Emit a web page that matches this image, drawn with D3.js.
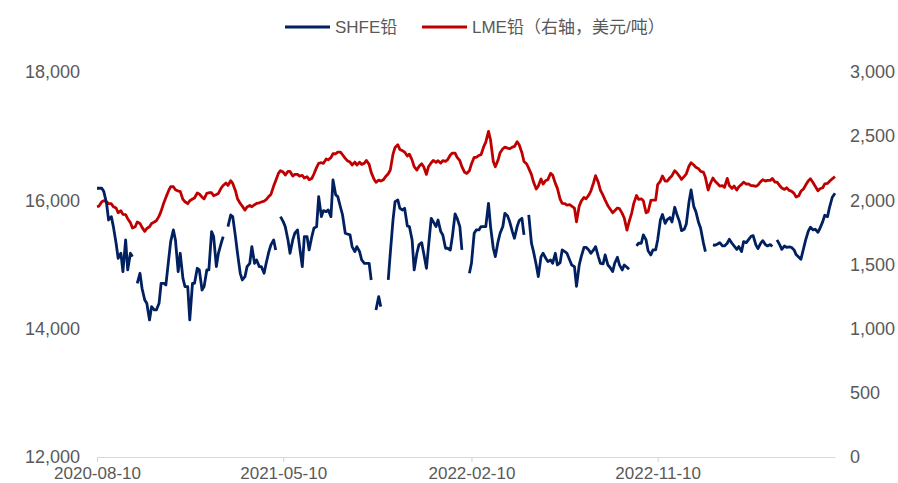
<!DOCTYPE html>
<html><head><meta charset="utf-8">
<script src="https://cdn.jsdelivr.net/npm/d3@7"></script>
<style>
html,body{margin:0;padding:0;background:#fff;}
svg text{font-family:"Liberation Sans","DejaVu Sans","Noto Sans CJK SC",sans-serif;fill:#595959;}
</style></head>
<body><svg id="c" width="898" height="483"></svg>
<script>
const dates = [
"2020-08-10","2020-08-13","2020-08-17","2020-08-20","2020-08-24","2020-08-27","2020-08-31","2020-09-03",
"2020-09-07","2020-09-10","2020-09-14","2020-09-17","2020-09-21","2020-09-24","2020-09-28","2020-10-01",
"2020-10-05","2020-10-08","2020-10-12","2020-10-15","2020-10-19","2020-10-22","2020-10-26","2020-10-29",
"2020-11-02","2020-11-05","2020-11-09","2020-11-12","2020-11-16","2020-11-19","2020-11-23","2020-11-26","2020-11-30","2020-12-03",
"2020-12-07","2020-12-10","2020-12-14","2020-12-17","2020-12-21","2020-12-24","2020-12-28","2020-12-31",
"2021-01-04","2021-01-07","2021-01-11","2021-01-14","2021-01-18","2021-01-21","2021-01-25","2021-01-28",
"2021-02-01","2021-02-04","2021-02-08","2021-02-11","2021-02-15","2021-02-18","2021-02-22","2021-02-25",
"2021-03-01","2021-03-04","2021-03-08","2021-03-11","2021-03-15","2021-03-18","2021-03-22","2021-03-25","2021-03-29","2021-04-01",
"2021-04-05","2021-04-08","2021-04-12","2021-04-15","2021-04-19","2021-04-22","2021-04-26","2021-04-29",
"2021-05-03","2021-05-06","2021-05-10","2021-05-13","2021-05-17","2021-05-20","2021-05-24","2021-05-27","2021-05-31","2021-06-03",
"2021-06-07","2021-06-10","2021-06-14","2021-06-17","2021-06-21","2021-06-24","2021-06-28","2021-07-01",
"2021-07-05","2021-07-08","2021-07-12","2021-07-15","2021-07-19","2021-07-22","2021-07-26","2021-07-29",
"2021-08-02","2021-08-05","2021-08-09","2021-08-12","2021-08-16","2021-08-19","2021-08-23","2021-08-26","2021-08-30","2021-09-02",
"2021-09-06","2021-09-09","2021-09-13","2021-09-16","2021-09-20","2021-09-23","2021-09-27","2021-09-30",
"2021-10-04","2021-10-07","2021-10-11","2021-10-14","2021-10-18","2021-10-21","2021-10-25","2021-10-28",
"2021-11-01","2021-11-04","2021-11-08","2021-11-11","2021-11-15","2021-11-18","2021-11-22","2021-11-25","2021-11-29","2021-12-02",
"2021-12-06","2021-12-09","2021-12-13","2021-12-16","2021-12-20","2021-12-23","2021-12-27","2021-12-30",
"2022-01-03","2022-01-06","2022-01-10","2022-01-13","2022-01-17","2022-01-20","2022-01-24","2022-01-27","2022-01-31","2022-02-03",
"2022-02-07","2022-02-10","2022-02-14","2022-02-17","2022-02-21","2022-02-24","2022-02-28","2022-03-03",
"2022-03-07","2022-03-10","2022-03-14","2022-03-17","2022-03-21","2022-03-24","2022-03-28","2022-03-31",
"2022-04-04","2022-04-07","2022-04-11","2022-04-14","2022-04-18","2022-04-21","2022-04-25","2022-04-28",
"2022-05-02","2022-05-05","2022-05-09","2022-05-12","2022-05-16","2022-05-19","2022-05-23","2022-05-26","2022-05-30","2022-06-02",
"2022-06-06","2022-06-09","2022-06-13","2022-06-16","2022-06-20","2022-06-23","2022-06-27","2022-06-30",
"2022-07-04","2022-07-07","2022-07-11","2022-07-14","2022-07-18","2022-07-21","2022-07-25","2022-07-28",
"2022-08-01","2022-08-04","2022-08-08","2022-08-11","2022-08-15","2022-08-18","2022-08-22","2022-08-25","2022-08-29","2022-09-01",
"2022-09-05","2022-09-08","2022-09-12","2022-09-15","2022-09-19","2022-09-22","2022-09-26","2022-09-29",
"2022-10-03","2022-10-06","2022-10-10","2022-10-13","2022-10-17","2022-10-20","2022-10-24","2022-10-27","2022-10-31","2022-11-03",
"2022-11-07","2022-11-10","2022-11-14","2022-11-17","2022-11-21","2022-11-24","2022-11-28","2022-12-01",
"2022-12-05","2022-12-08","2022-12-12","2022-12-15","2022-12-19","2022-12-22","2022-12-26","2022-12-29",
"2023-01-02","2023-01-05","2023-01-09","2023-01-12","2023-01-16","2023-01-19","2023-01-23","2023-01-26","2023-01-30","2023-02-02",
"2023-02-06","2023-02-09","2023-02-13","2023-02-16","2023-02-20","2023-02-23","2023-02-27","2023-03-02",
"2023-03-06","2023-03-09","2023-03-13","2023-03-16","2023-03-20","2023-03-23","2023-03-27","2023-03-30",
"2023-04-03","2023-04-06","2023-04-10","2023-04-13","2023-04-17","2023-04-20","2023-04-24","2023-04-27",
"2023-05-01","2023-05-04","2023-05-08","2023-05-11","2023-05-15","2023-05-18","2023-05-22","2023-05-25","2023-05-29","2023-06-01",
"2023-06-05","2023-06-08","2023-06-12","2023-06-15","2023-06-19","2023-06-22","2023-06-26","2023-06-29",
"2023-07-03","2023-07-06","2023-07-10","2023-07-13","2023-07-17","2023-07-20","2023-07-24","2023-07-28"
];
const shfe = [
16188,16188,16188,16136,15954,15694,15746,15590,15331,15097,15175,14889,15383,14915,15175,15123,
null,14707,14863,14629,14447,14395,14136,14344,14292,14292,14395,14707,14707,14681,15071,15357,15539,15383,
14889,15175,14785,14655,14655,14136,14707,14707,
14941,14915,14603,14655,14915,14915,15513,15435,14967,15175,15331,15435,null,15591,15772,15746,
15435,15175,14863,14759,14811,14967,15019,15279,15019,15071,14967,14967,14863,15019,15201,15305,15383,15227,
null,15746,15668,15590,15383,15175,15383,15487,15539,15279,14967,15435,15435,15227,15435,15565,
15591,16058,15746,15840,15824,15850,15746,16318,16084,16058,15892,15772,15487,15476,15461,15279,
15201,15279,15201,15071,15019,15019,15019,14759,null,14292,14499,14344,null,null,14759,15175,
15694,15980,16006,15876,15850,15876,15601,15591,15383,14915,15175,15305,15341,15175,14941,15279,
15720,15668,15591,15694,15513,15461,
15253,15253,15227,15435,15788,15720,15591,15227,null,null,14863,15019,15487,15539,15539,15591,
15591,15591,15954,15591,15253,15123,15357,15487,15591,15798,15757,15668,15513,15409,15591,15684,15720,15461,
null,15772,15331,15201,14993,14811,15123,15175,15097,15045,15071,15019,15175,14993,15029,15227,15201,15175,
15071,14993,14967,14660,14993,15123,15268,15268,15227,15175,15227,15279,15123,15019,15009,15149,14993,14957,
14889,15019,15112,14993,14915,14993,14957,14925,null,null,15292,15331,15331,15461,15383,15216,15149,15227,
15227,15383,15694,15780,15640,15700,15731,15663,15892,15788,15668,15528,15549,15632,15980,16162,
15902,15824,15653,15565,15341,15201,null,null,15305,15300,15320,15341,15289,15289,15331,15393,15331,15289,
15237,15279,15201,15357,15341,15383,15440,15450,15305,15247,15331,15372,15310,15289,15310,15279,
null,15383,15305,15237,15289,15268,15273,15268,15227,15154,15112,15081,15253,15383,15523,15580,15539,15549,
15502,15565,15668,15767,15746,15892,16048,16110
];
const lme = [
1950,1955,1989,1997,1989,1974,1974,1950,1940,1903,1919,1890,1888,1857,1826,1784,
1794,1831,1820,1789,1758,1781,1794,1820,1831,1841,1877,1916,1981,2023,2075,2106,2106,2083,
2072,2070,2007,1989,1974,1997,2010,2018,
2057,2049,2025,2012,2054,2059,2059,2036,2046,2054,2096,2116,2135,2116,2153,2132,
2075,2012,1976,1955,1924,1948,1961,1950,1966,1976,1981,1987,1994,2005,2031,2046,2111,2153,
2210,2231,2220,2197,2225,2225,2189,2202,2202,2189,2194,2174,2184,2161,2171,2205,
2257,2288,2293,2288,2322,2316,2332,2363,2363,2376,2376,2355,2327,2309,2298,2275,
2298,2275,2296,2280,2290,2311,2280,2218,2166,2140,2158,2150,2161,2184,2207,2236,
2360,2412,2433,2397,2386,2376,2345,2360,2314,2262,2236,2264,2285,2262,2202,2262,
2293,2311,2296,2309,2290,2309,
2303,2316,2353,2368,2368,2335,2309,2262,2218,2210,2231,2283,2335,2335,2350,2355,
2418,2454,2537,2470,2303,2262,2314,2371,2402,2415,2407,2402,2415,2420,2457,2433,2371,2303,
2283,2249,2200,2142,2088,2111,2166,2127,2155,2161,2210,2197,2132,2093,2010,1976,1974,1963,
1966,1955,1940,1833,1955,1994,2023,2012,2041,2072,2137,2192,2140,2080,2038,2002,1958,1935,
1903,1919,1940,1935,1898,1862,1768,1831,1903,1976,2038,2007,2012,1997,1903,1911,1999,2002,
2002,2122,2150,2190,2150,2150,2176,2192,2231,2215,2187,2163,2187,2207,2267,2293,
2275,2257,2246,2225,2220,2179,2080,2127,2174,2150,2129,2111,2114,2101,2171,2116,2093,2111,
2080,2106,2124,2142,2127,2129,2114,2114,2109,2119,2145,2161,2150,2155,2155,2171,
2142,2142,2114,2096,2085,2098,2077,2072,2054,2025,2036,2070,2090,2119,2153,2168,2137,2109,
2075,2090,2098,2129,2132,2148,2168,2184
];
const xTickLabels = ["2020-08-10","2021-05-10","2022-02-10","2022-11-10"];
const leftTicks = [12000,14000,16000,18000];
const rightTicks = [0,500,1000,1500,2000,2500,3000];
const seriesNames = ["SHFE铅","LME铅（右轴，美元/吨）"];
const colors = ["#002060","#C00000"];

const parse = d3.timeParse("%Y-%m-%d");
const svg = d3.select("#c");
const L = 97, R = 835, T = 72, B = 457;
const x = d3.scaleTime().domain([parse(dates[0]), parse(dates[dates.length-1])]).range([L, R]);
const yL = d3.scaleLinear().domain([12000,18000]).range([B, T]);
const yR = d3.scaleLinear().domain([0,3000]).range([B, T]);

// x axis
const gx = svg.append("g").attr("transform",`translate(0,${B})`)
  .call(d3.axisBottom(x).tickValues(xTickLabels.map(parse)).tickFormat(d3.timeFormat("%Y-%m-%d")).tickSize(5).tickSizeOuter(0).tickPadding(5));
gx.select(".domain").attr("stroke","#d9d9d9").attr("stroke-width",1.2);
gx.selectAll(".tick line").attr("stroke","#d9d9d9").attr("stroke-width",1.2);
gx.selectAll("text").attr("font-size",17).attr("y",22).attr("dy",null).style("fill","#595959");

// left axis
const gl = svg.append("g").attr("transform",`translate(${L},0)`)
  .call(d3.axisLeft(yL).tickValues(leftTicks).tickFormat(d3.format(",")).tickSize(0).tickPadding(17));
gl.select(".domain").remove();
gl.selectAll("text").attr("font-size",18).style("fill","#595959");

// right axis
const gr = svg.append("g").attr("transform",`translate(${R},0)`)
  .call(d3.axisRight(yR).tickValues(rightTicks).tickFormat(d3.format(",")).tickSize(0).tickPadding(15));
gr.select(".domain").remove();
gr.selectAll("text").attr("font-size",18).style("fill","#595959");

const shfeData = dates.map((d,i)=>({d:parse(d), v:shfe[i]}));
const lmeData = dates.map((d,i)=>({d:parse(d), v:lme[i]}));

svg.append("path").datum(lmeData)
  .attr("fill","none").attr("stroke",colors[1]).attr("stroke-width",2.8).attr("stroke-linejoin","round")
  .attr("d", d3.line().defined(p=>p.v!=null).x(p=>x(p.d)).y(p=>yR(p.v)));
svg.append("path").datum(shfeData)
  .attr("fill","none").attr("stroke",colors[0]).attr("stroke-width",2.8).attr("stroke-linejoin","round")
  .attr("d", d3.line().defined(p=>p.v!=null).x(p=>x(p.d)).y(p=>yL(p.v)));

// legend
const leg = [{x:285, tx:335},{x:422, tx:472}];
leg.forEach((l,i)=>{
  svg.append("line").attr("x1",l.x).attr("x2",l.x+45).attr("y1",27).attr("y2",27)
    .attr("stroke",colors[i]).attr("stroke-width",3);
  svg.append("text").attr("x",l.tx).attr("y",27).attr("dy","0.35em")
    .attr("font-size",17).text(seriesNames[i]);
});
</script></body></html>
